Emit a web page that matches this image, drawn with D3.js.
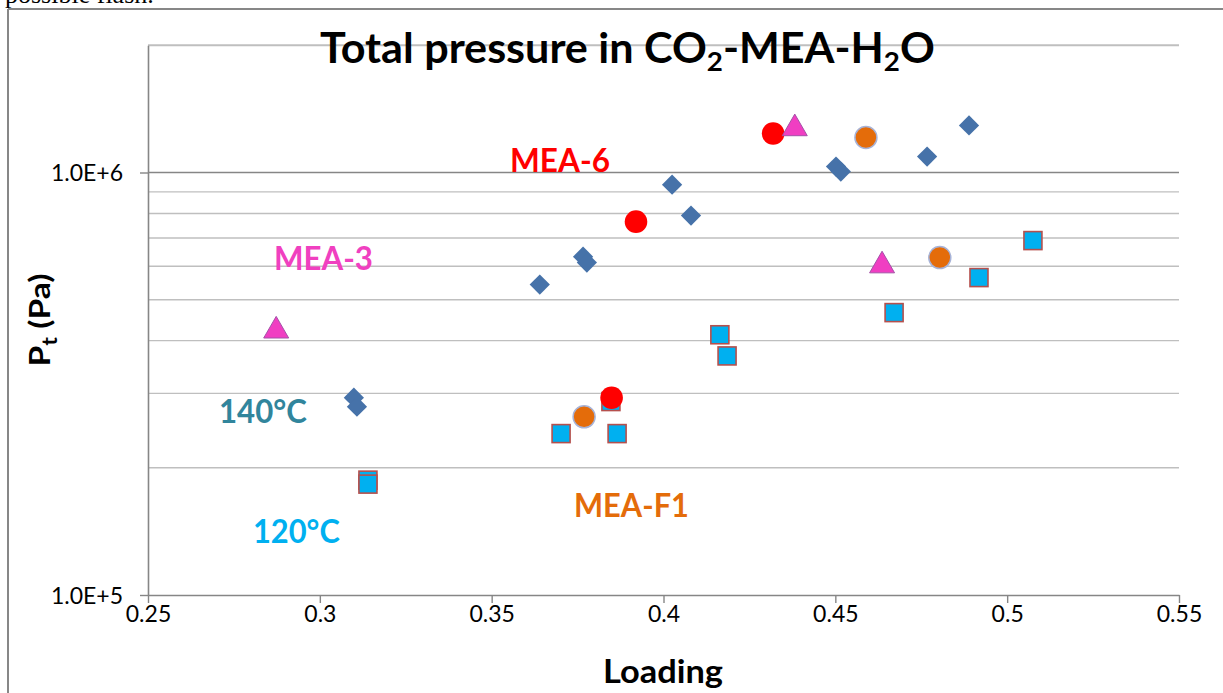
<!DOCTYPE html>
<html>
<head>
<meta charset="utf-8">
<script src="https://cdn.jsdelivr.net/npm/d3@7"></script>
<style>
  body { margin: 0; background: #fff; }
  svg text { font-family: Lato, "Open Sans", sans-serif; }
</style>
</head>
<body>
<svg width="1223" height="693"></svg>
<script>
// data: loading vs total pressure (Pa)
var diamondLoading = [0.364, 0.3766, 0.3777, 0.4025, 0.408, 0.4502, 0.4516, 0.4767, 0.4889, 0.3099, 0.3108];
var diamondP = [543000, 632000, 612000, 936000, 791000, 1033000, 1005000, 1091000, 1292000, 293000, 279000];

var squareLoading = [0.314, 0.314, 0.3702, 0.3847, 0.3865, 0.4164, 0.4185, 0.4671, 0.4918, 0.5075];
var squareP = [187000, 183000, 241000, 287000, 241000, 413000, 368000, 466000, 564000, 690000];

var orangeLoading = [0.3769, 0.4589, 0.4804];
var orangeP = [264000, 1210000, 629000];

var redLoading = [0.392, 0.4319, 0.3849];
var redP = [765000, 1237000, 293000];

var triLoading = [0.2873, 0.4382, 0.4636];
var triP = [422000, 1271000, 602000];

var xTicks = [0.25, 0.3, 0.35, 0.4, 0.45, 0.5, 0.55];
var yTicks = [1e5, 1e6];
var yGrid = [2e5, 3e5, 4e5, 5e5, 6e5, 7e5, 8e5, 9e5, 2e6];

var svg = d3.select("svg");

var x = d3.scaleLinear().domain([0.25, 0.55]).range([148, 1179]);
var y = d3.scaleLog().domain([1e5, 2e6]).range([595, 595 - 422.5 * Math.log10(20)]);

// stretch a text node horizontally so it covers a given width
function fitWidth(sel, x0, w) {
  var bb = sel.node().getBBox();
  var sx = w / bb.width;
  sel.attr("transform", "translate(" + x0 + ",0) scale(" + sx + ",1) translate(" + (-x0) + ",0)");
}

// text of the page above the chart, cut off
svg.append("text")
  .attr("x", 5).attr("y", 3)
  .style("font-family", "'Liberation Serif', serif")
  .style("font-size", "26px")
  .text("possible flash.");

// chart frame
svg.append("line").attr("x1", 8).attr("x2", 1223).attr("y1", 9).attr("y2", 9)
  .style("stroke", "#878787").style("stroke-width", 2);
svg.append("line").attr("x1", 8).attr("x2", 8).attr("y1", 9).attr("y2", 693)
  .style("stroke", "#878787").style("stroke-width", 2);

// gridlines
svg.append("g").selectAll("line")
  .data(yGrid)
  .enter()
  .append("line")
  .attr("x1", 148).attr("x2", 1179)
  .attr("y1", function(d) { return y(d); })
  .attr("y2", function(d) { return y(d); })
  .style("stroke", "#bfbfbf")
  .style("stroke-width", function(d) { return d == 2e6 ? 2 : 1.4; });

svg.append("line")
  .attr("x1", 148).attr("x2", 1179)
  .attr("y1", y(1e6)).attr("y2", y(1e6))
  .style("stroke", "#868686").style("stroke-width", 1.6);

// axes
var xAxis = svg.append("g")
  .attr("transform", "translate(0," + y(1e5) + ")")
  .call(d3.axisBottom(x).tickValues(xTicks).tickSizeInner(8).tickSizeOuter(0).tickPadding(3)
    .tickFormat(function(d) { return String(+d.toFixed(2)); }));

var yAxis = svg.append("g")
  .attr("transform", "translate(148,0)")
  .call(d3.axisLeft(y).tickValues(yTicks).tickSizeInner(8).tickSizeOuter(0).tickPadding(17)
    .tickFormat(function(d) { return "1.0E+" + Math.round(Math.log10(d)); }));

[xAxis, yAxis].forEach(function(g) {
  g.select(".domain").style("stroke", "#868686").style("stroke-width", 1.6);
  g.selectAll(".tick line").style("stroke", "#868686").style("stroke-width", 1.4);
  g.selectAll(".tick text")
    .style("font-family", "Lato, sans-serif")
    .style("font-size", "23px")
    .style("fill", "#000");
});
yAxis.selectAll(".tick text").attr("dy", "0.36em");

// markers
var diamond = d3.symbol().type(d3.symbolSquare).size(205);
svg.append("g").selectAll("path")
  .data(diamondLoading)
  .enter()
  .append("path")
  .attr("d", diamond)
  .attr("transform", function(d, i) {
    return "translate(" + x(d) + "," + y(diamondP[i]) + ") rotate(45)";
  })
  .style("fill", "#4672a9");

svg.append("g").selectAll("rect")
  .data(squareLoading)
  .enter()
  .append("rect")
  .attr("x", function(d) { return x(d) - 9; })
  .attr("y", function(d, i) { return y(squareP[i]) - 9; })
  .attr("width", 18).attr("height", 18)
  .style("fill", "#00b0f0")
  .style("stroke", "#b5504d")
  .style("stroke-width", 1.6);

svg.append("g").selectAll("circle")
  .data(orangeLoading)
  .enter()
  .append("circle")
  .attr("cx", function(d) { return x(d); })
  .attr("cy", function(d, i) { return y(orangeP[i]); })
  .attr("r", 11)
  .style("fill", "#e46c0a")
  .style("stroke", "#a7b3d8")
  .style("stroke-width", 1.5);

svg.append("g").selectAll("circle")
  .data(redLoading)
  .enter()
  .append("circle")
  .attr("cx", function(d) { return x(d); })
  .attr("cy", function(d, i) { return y(redP[i]); })
  .attr("r", 11.3)
  .style("fill", "#ff0000");

var tri = d3.symbol().type(d3.symbolTriangle).size(270);
svg.append("g").selectAll("path")
  .data(triLoading)
  .enter()
  .append("path")
  .attr("d", tri)
  .attr("transform", function(d, i) {
    return "translate(" + x(d) + "," + y(triP[i]) + ")";
  })
  .style("fill", "#f03ec2")
  .style("stroke", "#a451a8")
  .style("stroke-width", 1);

// series labels
var labels = [
  {t: "MEA-6", x: 510, y: 172, w: 100, c: "#ff0000"},
  {t: "MEA-3", x: 274, y: 270, w: 99, c: "#f040c0"},
  {t: "MEA-F1", x: 574, y: 517, w: 115, c: "#e46c0a"},
  {t: "140°C", x: 219, y: 423, w: 88, c: "#31859c"},
  {t: "120°C", x: 253, y: 543, w: 87, c: "#00b0f0"}
];
labels.forEach(function(l) {
  var t = svg.append("text")
    .attr("x", l.x).attr("y", l.y)
    .style("font-size", "33px")
    .style("font-weight", "bold")
    .style("fill", l.c)
    .text(l.t);
  fitWidth(t, l.x, l.w);
});

// title
var title = svg.append("text")
  .attr("x", 320).attr("y", 63)
  .style("font-size", "42px")
  .style("font-weight", "bold");
title.append("tspan").text("Total pressure in CO");
title.append("tspan").text("2").style("font-size", "27px").attr("dy", 8);
title.append("tspan").text("-MEA-H").attr("dy", -8);
title.append("tspan").text("2").style("font-size", "27px").attr("dy", 8);
title.append("tspan").text("O").attr("dy", -8);
fitWidth(title, 320, 615);

// axis titles
var xt = svg.append("text")
  .attr("x", 603).attr("y", 683)
  .style("font-size", "33px")
  .style("font-weight", "bold")
  .text("Loading");
fitWidth(xt, 603, 120);

var yt = svg.append("text")
  .attr("x", 0).attr("y", 0)
  .style("font-size", "29px")
  .style("font-weight", "bold");
yt.append("tspan").text("P");
yt.append("tspan").text("t").style("font-size", "20px").attr("dy", 7);
yt.append("tspan").text(" (Pa)").attr("dy", -7);
var ybb = yt.node().getBBox();
yt.attr("transform", "translate(50," + (320 + 93 / 2) + ") rotate(-90) scale(" + (93 / ybb.width) + ",1)");
</script>
</body>
</html>
